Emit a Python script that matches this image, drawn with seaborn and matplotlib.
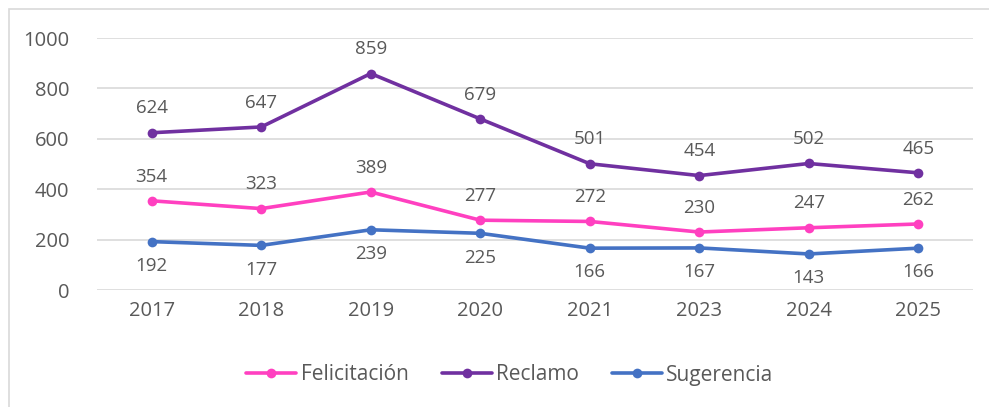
import matplotlib
matplotlib.use("Agg")
import matplotlib.pyplot as plt
from matplotlib.patches import Rectangle
import seaborn as sns
import pandas as pd

# data
years = ["2017", "2018", "2019", "2020", "2021", "2023", "2024", "2025"]
felicitacion = [354, 323, 389, 277, 272, 230, 247, 262]
reclamo = [624, 647, 859, 679, 501, 454, 502, 465]
sugerencia = [192, 177, 239, 225, 166, 167, 143, 166]

series = ["Felicitación", "Reclamo", "Sugerencia"]
colors = ["#FF40C0", "#7030A0", "#4472C4"]

df = pd.DataFrame({
    "year": years * 3,
    "value": felicitacion + reclamo + sugerencia,
    "serie": [s for s in series for _ in years],
})

sns.set_style("white")
plt.rcParams["font.family"] = ["Open Sans", "DejaVu Sans"]
text_col = "#595959"

fig = plt.figure(figsize=(9.89, 4.07), dpi=100)
ax = fig.add_axes([97 / 989, 1 - 290 / 407, 876 / 989, 252 / 407])

sns.lineplot(data=df, x="year", y="value", hue="serie", palette=colors,
             marker="o", markersize=7, markeredgewidth=0, linewidth=2.6,
             sort=False, ax=ax)

# value labels: above for the upper two series, below for Sugerencia
for vals, dy in [(felicitacion, 11), (reclamo, 11), (sugerencia, -11)]:
    for i, v in enumerate(vals):
        ax.annotate(str(v), (i, v), xytext=(0, dy), textcoords="offset points",
                    ha="center", va="bottom" if dy > 0 else "top",
                    fontsize=13.5, color=text_col)

ax.set_ylim(0, 1000)
ax.set_xlim(-0.5, len(years) - 0.5)
ax.set_yticks(range(0, 1001, 200))
ax.grid(axis="y", color="#D9D9D9", linewidth=1.2)
ax.set_axisbelow(True)
for s in ax.spines.values():
    s.set_visible(False)
ax.tick_params(axis="both", length=0, labelsize=14.5, labelcolor=text_col, pad=8)
ax.tick_params(axis="y", pad=20)
ax.set_xlabel("")
ax.set_ylabel("")

handles, labels = ax.get_legend_handles_labels()
ax.get_legend().remove()
fig.legend(handles, labels, loc="center", bbox_to_anchor=(510 / 989, 1 - 375 / 407),
           ncol=3, frameon=False, fontsize=15, labelcolor=text_col,
           handlelength=2.4, handletextpad=0.2, columnspacing=1.6)

fig.patches.append(Rectangle((9 / 989, -0.05), 1.1, 1.05 - 9 / 407, transform=fig.transFigure,
                             fill=False, edgecolor="#D9D9D9", linewidth=1.2))

fig.savefig("out.png", dpi=100)
